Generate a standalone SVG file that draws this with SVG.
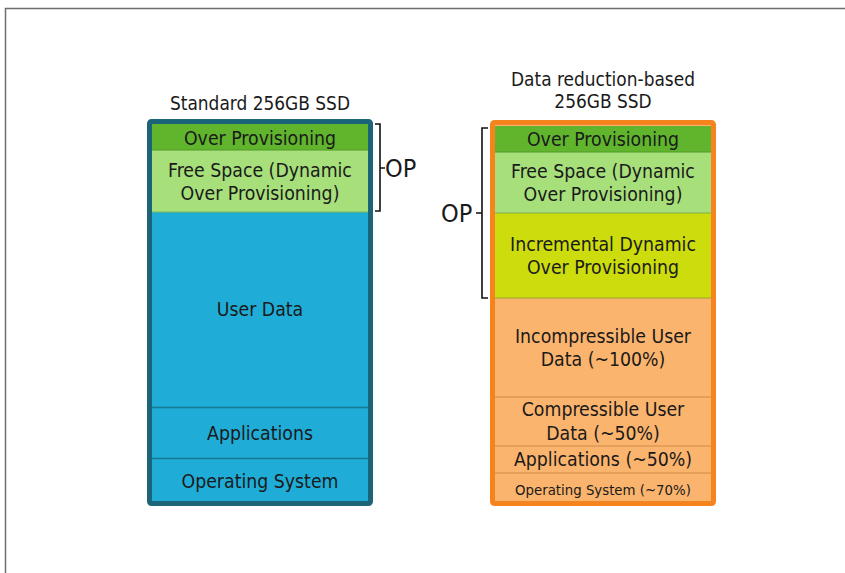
<svg xmlns="http://www.w3.org/2000/svg" width="845" height="573" viewBox="0 0 845 573">
<style>
text{font-family:"DejaVu Sans Condensed","DejaVu Sans",sans-serif;fill:#1a1a1a;text-anchor:middle;font-size:19.3px}
.t{font-size:18.9px}
.sm{font-size:14.8px}
.op{font-size:25px;text-anchor:start}
.br{fill:none;stroke:#111;stroke-width:1.6}
.sepb{stroke:#17798f;stroke-width:1.5}
.sepo{stroke:#d08a48;stroke-width:1.2}
</style>
<rect x="0" y="0" width="845" height="573" fill="#fff"/>
<path d="M5.5 573 V8.5 H845" fill="none" stroke="#6e6e6e" stroke-width="1.5"/>
<g id="standard">
<text class="t" x="260" y="110">Standard 256GB SSD</text>
<rect x="149.5" y="121.5" width="221" height="382" fill="#1fadd7" stroke="#1c6579" stroke-width="5" rx="2"/>
<rect x="152" y="124" width="216" height="26" fill="#60b52d"/>
<rect x="152" y="150" width="216" height="62" fill="#a7df7b"/>
<line x1="152" y1="150" x2="368" y2="150" stroke="#4f9a2a" stroke-width="1"/>
<line x1="152" y1="212" x2="368" y2="212" stroke="#7fb85a" stroke-width="1"/>
<line class="sepb" x1="152" y1="407.5" x2="368" y2="407.5"/>
<line class="sepb" x1="152" y1="458.5" x2="368" y2="458.5"/>
<text x="260" y="144.5">Over Provisioning</text>
<text x="260" y="177">Free Space (Dynamic</text>
<text x="260" y="200">Over Provisioning)</text>
<text x="260" y="316">User Data</text>
<text x="260" y="440">Applications</text>
<text x="260" y="487.5">Operating System</text>
</g>
<g id="reduction">
<text class="t" x="603" y="86">Data reduction-based</text>
<text class="t" x="603" y="108">256GB SSD</text>
<rect x="492.5" y="122.5" width="221" height="381" fill="#fbb46d" stroke="#f5841f" stroke-width="5" rx="2"/>
<rect x="495" y="126" width="216" height="26" fill="#60b52d"/>
<rect x="495" y="152" width="216" height="61" fill="#a7df7b"/>
<rect x="495" y="213" width="216" height="85" fill="#cddc0c"/>
<line x1="495" y1="152" x2="711" y2="152" stroke="#4f9a2a" stroke-width="1"/>
<line x1="495" y1="213" x2="711" y2="213" stroke="#7fae4a" stroke-width="1"/>
<line x1="495" y1="298" x2="711" y2="298" stroke="#9aa62a" stroke-width="1"/>
<line class="sepo" x1="495" y1="397" x2="711" y2="397"/>
<line class="sepo" x1="495" y1="446" x2="711" y2="446"/>
<line class="sepo" x1="495" y1="473" x2="711" y2="473"/>
<text x="603" y="145.5">Over Provisioning</text>
<text x="603" y="178">Free Space (Dynamic</text>
<text x="603" y="201">Over Provisioning)</text>
<text x="603" y="251">Incremental Dynamic</text>
<text x="603" y="274">Over Provisioning</text>
<text x="603" y="343">Incompressible User</text>
<text x="603" y="366">Data (~100%)</text>
<text x="603" y="416">Compressible User</text>
<text x="603" y="440">Data (~50%)</text>
<text x="603" y="465.5">Applications (~50%)</text>
<text class="sm" x="603" y="494.5">Operating System (~70%)</text>
</g>
<g id="connectors">
<path class="br" d="M375 124 H380 V211 H375 M380 168 H385"/>
<path class="br" d="M488 128 H482 V298 H488 M482 213 H476"/>
</g>
<g id="op-labels">
<text class="op" x="385" y="177">OP</text>
<text class="op" x="441" y="222">OP</text>
</g>
</svg>
